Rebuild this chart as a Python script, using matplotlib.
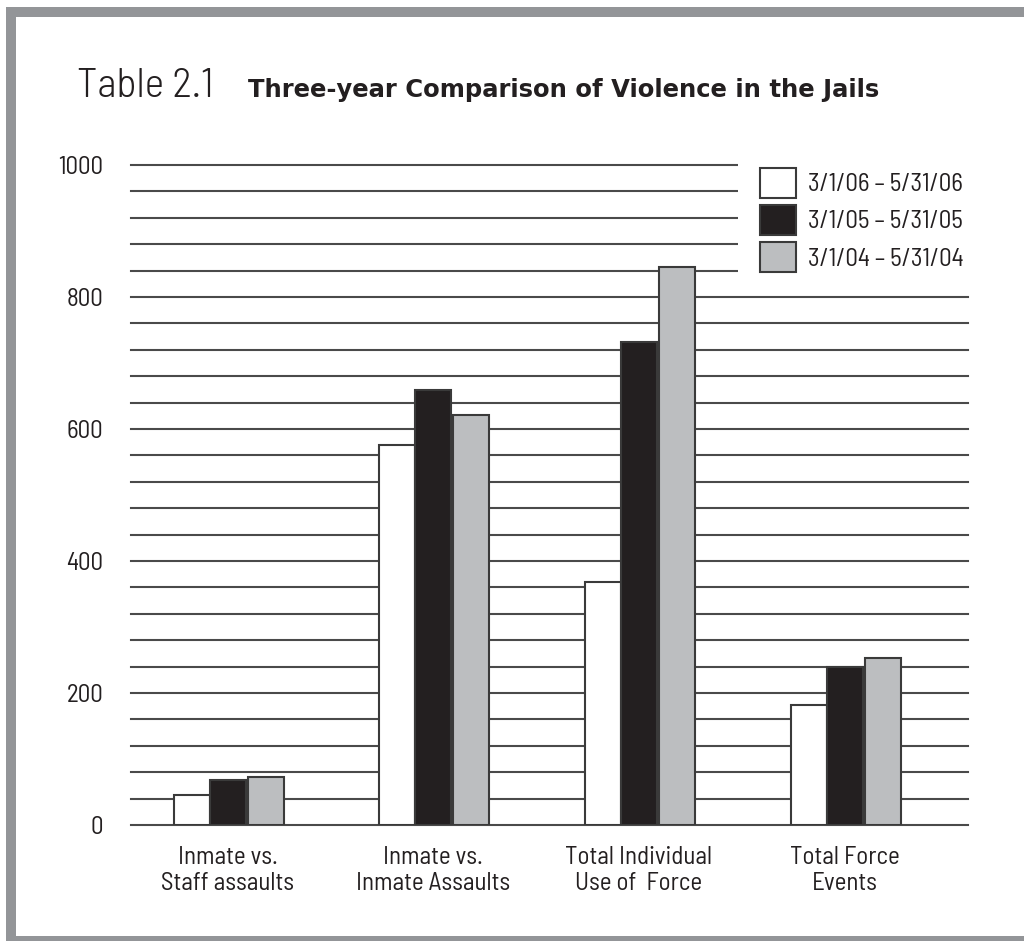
import numpy as np
import matplotlib
matplotlib.use("Agg")
import matplotlib.pyplot as plt
from matplotlib.patches import Patch, Rectangle

plt.rcParams['font.family'] = ['Barlow Semi Condensed', 'Barlow Condensed', 'DejaVu Sans']

# data
categories = ['Inmate vs.\nStaff assaults', 'Inmate vs.\nInmate Assaults',
              'Total Individual\nUse of  Force', 'Total Force\nEvents']
series = ['3/1/06 \u2013 5/31/06', '3/1/05 \u2013 5/31/05', '3/1/04 \u2013 5/31/04']
v2006 = [45, 576, 368, 182]
v2005 = [68, 659, 732, 239]
v2004 = [73, 621, 845, 253]
yticks = [0, 200, 400, 600, 800, 1000]

colors = ['#ffffff', '#231f20', '#bcbec0']
edge = '#3a3a3a'
txt = '#231f20'
frame_gray = '#939598'

fig = plt.figure(figsize=(10.24, 9.41), dpi=100)
ax = fig.add_axes([131 / 1024, 116 / 941, 837 / 1024, 660 / 941])

# horizontal rules every 40
for y in np.arange(0, 1001, 40):
    ax.axhline(y, color='#4a4a4a', lw=1.5, zorder=1, clip_on=False)

x = np.arange(len(categories))
w = 0.175
offs = [-w, 0, w + 0.01]
for vals, c, o, lab in zip([v2006, v2005, v2004], colors, offs, series):
    ax.bar(x + o, vals, width=w, color=c, edgecolor=edge, linewidth=1.5,
           zorder=3, label=lab)

ax.set_xlim(-0.47, 3.6)
ax.set_ylim(0, 1000)
ax.set_yticks(yticks)
ax.set_yticklabels([str(t) for t in yticks])
ax.set_xticks(x)
ax.set_xticklabels(categories, linespacing=1.15)
ax.tick_params(axis='y', length=0, pad=20, labelsize=18, labelcolor=txt)
ax.tick_params(axis='x', length=0, pad=15, labelsize=18, labelcolor=txt)
for s in ax.spines.values():
    s.set_visible(False)

# white area behind the legend
ax.add_patch(Rectangle((0.725, 0.825), 0.3, 0.19, transform=ax.transAxes,
                       facecolor='white', edgecolor='none', zorder=2, clip_on=False))

handles = [Patch(facecolor=c, edgecolor=edge, linewidth=1.5) for c in colors]
leg = ax.legend(handles, series, loc='upper left',
                bbox_to_anchor=(760 / 1024, 1 - 168 / 941),
                bbox_transform=fig.transFigure, frameon=False, fontsize=18,
                handlelength=1.45, handleheight=1.45, handletextpad=0.45,
                labelspacing=0.3, borderpad=0, borderaxespad=0)
for t in leg.get_texts():
    t.set_color(txt)

# title
fig.text(77 / 1024, 1 - 97 / 941, 'Table 2.1', fontsize=30, fontweight=300,
         color=txt, va='baseline')
fig.text(248 / 1024, 1 - 97 / 941, 'Three-year Comparison of Violence in the Jails',
         fontsize=17.5, fontweight='bold', color=txt, va='baseline',
         family=['DejaVu Sans'])

# grey frame
fig.add_artist(Rectangle((6 / 1024, 0), 10 / 1024, 934 / 941, transform=fig.transFigure,
                         facecolor=frame_gray, edgecolor='none'))
fig.add_artist(Rectangle((6 / 1024, 924 / 941), 1, 10 / 941, transform=fig.transFigure,
                         facecolor=frame_gray, edgecolor='none'))
fig.add_artist(Rectangle((6 / 1024, 0), 1, 5 / 941, transform=fig.transFigure,
                         facecolor=frame_gray, edgecolor='none'))

fig.savefig('out.png', dpi=100)
